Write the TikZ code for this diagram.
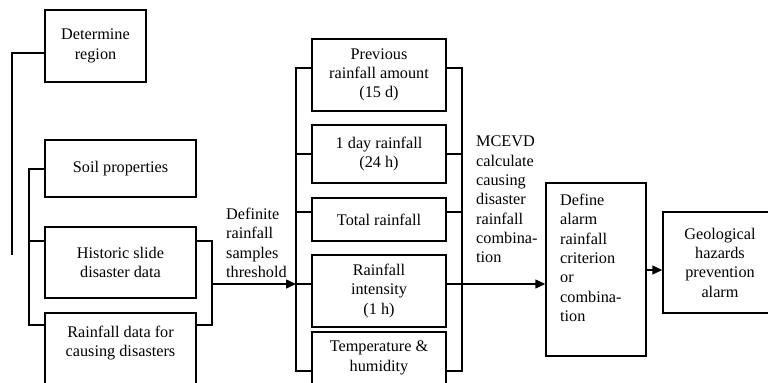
\documentclass[tikz,border=0pt]{standalone}
\usepackage{fontspec}
\setmainfont{Liberation Serif}
\usetikzlibrary{arrows.meta}
\tikzset{
  box/.style={draw, line width=1.5bp, inner sep=0pt, align=center, font=\fontsize{16.3}{19.4}\selectfont},
  txt/.style={inner sep=0pt, align=left, font=\fontsize{16.3}{19.4}\selectfont},
  ctxt/.style={inner sep=0pt, align=center, font=\fontsize{16.3}{19.4}\selectfont},
  conn/.style={line width=1.5bp},
  arr/.style={line width=1.5bp, -{Triangle[length=10bp,width=9bp]}}
}
\begin{document}
\begin{tikzpicture}[x=1bp,y=-1bp]
\clip (0,0) rectangle (768,382);
% left column
\node[box, minimum width=101bp, minimum height=72bp] (det) at (95.5,46) {Determine\\region};
\node[box, minimum width=151bp, minimum height=57bp] (soil) at (120.5,168.5) {Soil properties};
\node[box, minimum width=151bp, minimum height=71bp] (hist) at (120.5,262.5) {Historic slide\\ disaster data};
\node[box, minimum width=151bp, minimum height=87bp] (rain) at (120.5,356.5) {};
\node[ctxt] (raintxt) at (120.5,343) {Rainfall data for\\causing disasters};
% middle column
\node[box, minimum width=134bp, minimum height=72bp] (prev) at (379,75) {Previous\\rainfall amount\\(15 d)};
\node[box, minimum width=134bp, minimum height=58bp] (oneday) at (379,154) {1 day rainfall\\(24 h)};
\node[box, minimum width=134bp, minimum height=43bp] (total) at (379,219.5) {Total rainfall};
\node[box, minimum width=134bp, minimum height=72bp] (inten) at (379,291) {Rainfall\\intensity\\(1 h)};
\node[box, minimum width=134bp, minimum height=52bp] (temp) at (379,358) {Temperature \&\\humidity};
% right
\node[box, minimum width=100bp, minimum height=173bp] (define) at (596,269.5) {};
\node[txt, anchor=west] (definetxt) at (560,258) {Define\\alarm\\rainfall\\criterion\\or\\combina-\\tion};
\node[box, minimum width=114bp, minimum height=101bp] (geo) at (720,262.5) {Geological\\hazards\\prevention\\alarm};
% labels
\node[txt, anchor=west] (lab1) at (226,243) {Definite\\rainfall\\samples\\threshold};
\node[txt, anchor=west] (lab2) at (476,199.5) {MCEVD\\calculate\\causing\\disaster\\rainfall\\combina-\\tion};
% outer bracket
\coordinate (b1a) at (12,53);
\coordinate (b1b) at (12,255);
\draw[conn] (det.west |- b1a) -- (b1a) -- (b1b);
% inner bracket
\coordinate (b2a) at (29,169);
\coordinate (b2b) at (29,241);
\coordinate (b2c) at (29,325);
\draw[conn] (soil.west |- b2a) -- (b2a) -- (b2c) -- (rain.west |- b2c);
\draw[conn] (b2b) -- (hist.west |- b2b);
% right bracket of left group
\coordinate (b3a) at (212,241);
\coordinate (b3b) at (212,325);
\coordinate (b3m) at (212,284);
\draw[conn] (hist.east |- b3a) -- (b3a) -- (b3b) -- (rain.east |- b3b);
% middle left bracket
\coordinate (b4a) at (296,68);
\coordinate (b4b) at (296,154);
\coordinate (b4c) at (296,212);
\coordinate (b4d) at (296,284);
\coordinate (b4e) at (296,371);
\draw[conn] (prev.west |- b4a) -- (b4a) -- (b4e) -- (temp.west |- b4e);
\draw[conn] (b4b) -- (oneday.west |- b4b);
\draw[conn] (b4c) -- (total.west |- b4c);
\draw[conn] (b4d) -- (inten.west |- b4d);
\draw[arr] (b3m) -- (b4d);
% middle right bracket
\coordinate (b5a) at (462,68);
\coordinate (b5b) at (462,154);
\coordinate (b5c) at (462,212);
\coordinate (b5d) at (462,284);
\coordinate (b5e) at (462,371);
\draw[conn] (prev.east |- b5a) -- (b5a) -- (b5e) -- (temp.east |- b5e);
\draw[conn] (b5b) -- (oneday.east |- b5b);
\draw[conn] (b5c) -- (total.east |- b5c);
\draw[conn] (b5d) -- (inten.east |- b5d);
\draw[arr] (b5d) -- (define.west |- b5d);
% last arrow
\coordinate (a3) at (654,270);
\draw[arr] (define.east |- a3) -- (geo.west |- a3);
\end{tikzpicture}
\end{document}
